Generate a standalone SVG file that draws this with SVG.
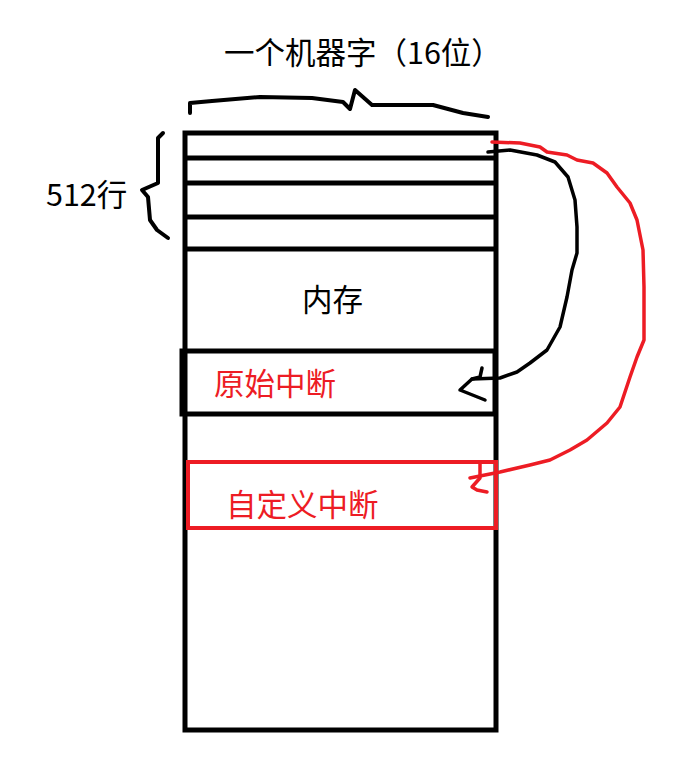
<svg xmlns="http://www.w3.org/2000/svg" width="688" height="762" viewBox="0 0 688 762">
<style>
.t{font-family:"Noto Sans CJK SC","Noto Sans",sans-serif;font-size:30.5px;fill:#000}
.r{fill:#ED1C24}
.k{fill:none;stroke:#000;stroke-linejoin:round;stroke-linecap:round}
.rs{fill:none;stroke:#ED1C24;stroke-linejoin:round;stroke-linecap:round}
</style>
<rect width="688" height="762" fill="#fff"/>
<g id="title"><text class="t" x="224" y="64">一个机器字（16位）</text></g>
<g id="rowsLabel"><text class="t" x="46" y="206">512行</text></g>
<g id="braces">
<path class="k" stroke-width="4" d="M190,113 L190,103 L212,101 L260,97 L312,98 L343,102 L350,109 L355,90 L372,105 L433,105 L463,113 L488,117"/>
<path class="k" stroke-width="4" d="M163,133 L158,138 L158,183 L142,190 L148,197 L150,220 L157,230 L168,238"/>
</g>
<g id="memory">
<rect x="185" y="133" width="311" height="597" fill="none" stroke="#000" stroke-width="5"/>
<g stroke="#000" stroke-width="5">
<line x1="185" y1="158" x2="496" y2="158"/>
<line x1="185" y1="183" x2="496" y2="183"/>
<line x1="185" y1="217" x2="496" y2="217"/>
<line x1="185" y1="249" x2="496" y2="249"/>
</g>
<text class="t" x="302" y="311">内存</text>
</g>
<g id="original">
<rect x="182" y="351" width="313" height="63" fill="none" stroke="#000" stroke-width="5"/>
<text class="t r" x="214" y="395">原始中断</text>
</g>
<g id="custom">
<rect x="188" y="462" width="308" height="66" fill="none" stroke="#ED1C24" stroke-width="4"/>
<text class="t r" x="226" y="516">自定义中断</text>
</g>
<g id="connectors">
<path class="k" stroke-width="3.5" d="M488,152 L510,150 L537,155 L555,162 L568,177 L575,200 L577,227 L577,253 L572,270 L567,297 L560,327 L547,350 L530,363 L517,372 L500,378 L472,379"/>
<path class="k" stroke-width="3.5" d="M482,368 L480,377 L472,379 L460,390 L485,400"/>
<path class="rs" stroke-width="3.5" d="M492,142 L520,143 L540,147 L547,152 L567,155 L577,160 L593,163 L607,173 L617,187 L630,203 L637,220 L643,250 L644,287 L644,340 L637,357 L630,377 L620,407 L607,423 L587,440 L570,450 L550,460 L530,465 L500,472 L480,476 L470,478"/>
<path class="rs" stroke-width="3.5" d="M480,463 L480,478 L472,487 L477,490 L487,492"/>
</g>
</svg>
